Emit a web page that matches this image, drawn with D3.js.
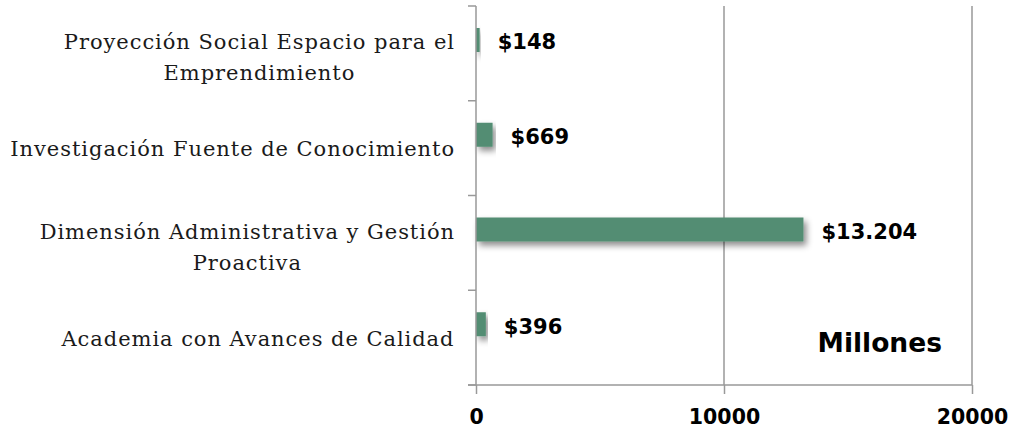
<!DOCTYPE html>
<html>
<head>
<meta charset="utf-8">
<script src="https://cdn.jsdelivr.net/npm/d3@7"></script>
<style>
  body { margin: 0; background: #fff; }
  svg { display: block; }
</style>
</head>
<body>
<svg width="1013" height="437"></svg>
<script>
// data, top to bottom as drawn
var categories = [
  ["Proyección Social Espacio para el", "Emprendimiento"],
  ["Investigación Fuente de Conocimiento"],
  ["Dimensión Administrativa y Gestión", "Proactiva"],
  ["Academia con Avances de Calidad"]
];
var values = [148, 669, 13204, 396];
var valueLabels = ["$148", "$669", "$13.204", "$396"];
var xTicks = [0, 10000, 20000];
var unitLabel = "Millones";

var svg = d3.select("svg");
var plotLeft = 476, plotRight = 972, plotTop = 6, plotBottom = 385;

var x = d3.scaleLinear().domain([0, 20000]).range([plotLeft, plotRight]);
var y = d3.scaleBand().domain(d3.range(categories.length)).range([plotTop, plotBottom]);

var defs = svg.append("defs");
var f = defs.append("filter").attr("id", "shadow")
  .attr("x", "-10%").attr("y", "-30%").attr("width", "130%").attr("height", "190%");
f.append("feDropShadow").attr("dx", 3).attr("dy", 4).attr("stdDeviation", 3)
  .attr("flood-color", "#000").attr("flood-opacity", 0.45);

// gridlines
svg.append("g").selectAll("line")
  .data(xTicks.slice(1))
  .enter().append("line")
  .attr("x1", d => x(d)).attr("x2", d => x(d))
  .attr("y1", plotTop).attr("y2", plotBottom)
  .attr("stroke", "#999").attr("stroke-width", 1.5);

// bars
svg.append("g").selectAll("rect")
  .data(values)
  .enter().append("rect")
  .attr("x", x(0))
  .attr("y", (d, i) => y(i) + 22)
  .attr("width", d => x(d) - x(0))
  .attr("height", 24)
  .attr("fill", "#528d73")
  .attr("filter", "url(#shadow)");

// x axis
var xAxis = svg.append("g").attr("transform", "translate(0," + plotBottom + ")")
  .call(d3.axisBottom(x).tickValues(xTicks).tickSize(9).tickSizeOuter(0).tickFormat(d3.format("d")));
xAxis.select(".domain").attr("stroke", "#999").attr("stroke-width", 1.5)
  .attr("d", "M" + (plotLeft - 8) + ",0H" + plotRight);
xAxis.selectAll(".tick line").attr("stroke", "#999").attr("stroke-width", 1.5);
xAxis.selectAll(".tick text")
  .attr("y", 24).attr("dy", "0.71em")
  .attr("fill", "#000")
  .style("font-family", "'DejaVu Sans', sans-serif")
  .style("font-weight", "bold")
  .style("font-size", "20.5px");

// y axis
var yAxis = svg.append("g").attr("transform", "translate(" + plotLeft + ",0)");
yAxis.append("line").attr("x1", 0).attr("x2", 0).attr("y1", plotTop).attr("y2", plotBottom)
  .attr("stroke", "#999").attr("stroke-width", 1.5);
yAxis.selectAll(".yt")
  .data(d3.range(categories.length + 1))
  .enter().append("line")
  .attr("x1", -8).attr("x2", 0)
  .attr("y1", i => plotTop + i * y.step()).attr("y2", i => plotTop + i * y.step())
  .attr("stroke", "#999").attr("stroke-width", 1.5);

// category labels
var catG = svg.append("g");
categories.forEach(function (lines, i) {
  var cy = y(i) + y.bandwidth() / 2 + 1 + (lines.length - 1) * 3;
  var t = catG.append("text")
    .attr("text-anchor", "middle")
    .attr("fill", "#1a1a1a")
    .style("font-family", "'DejaVu Serif', serif")
    .style("font-size", "21px")
    .style("letter-spacing", "0.95px");
  var lh = 31;
  var y0 = cy - (lines.length - 1) * lh / 2;
  lines.forEach(function (s, j) {
    t.append("tspan").attr("x", 0).attr("y", y0 + j * lh).attr("dy", "0.35em").text(s);
  });
  // right align block at x = 455
  var w = t.node().getBBox().width;
  t.selectAll("tspan").attr("x", 455 - w / 2);
});

// value labels
svg.append("g").selectAll("text")
  .data(values)
  .enter().append("text")
  .attr("x", d => x(d) + 18)
  .attr("y", (d, i) => y(i) + 22 + 12 + 2)
  .attr("dy", "0.35em")
  .attr("fill", "#000")
  .style("font-family", "'DejaVu Sans', sans-serif")
  .style("font-weight", "bold")
  .style("font-size", "21px")
  .text((d, i) => valueLabels[i]);

svg.append("text")
  .attr("x", 942).attr("y", 343).attr("dy", "0.35em")
  .attr("text-anchor", "end")
  .attr("fill", "#000")
  .style("font-family", "'DejaVu Sans', sans-serif")
  .style("font-weight", "bold")
  .style("font-size", "26.5px")
  .text(unitLabel);
</script>
</body>
</html>
